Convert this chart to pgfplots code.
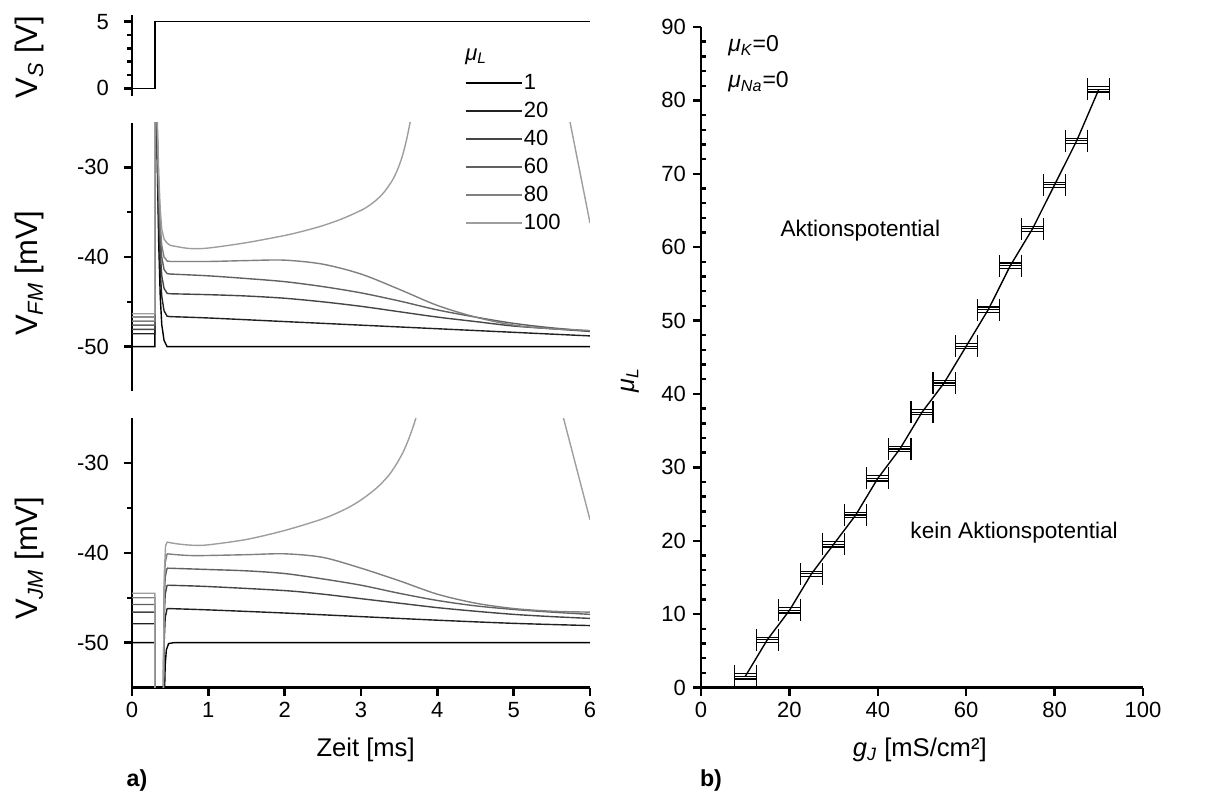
\documentclass[border=0pt]{standalone}
\usepackage{pgfplots}
\pgfplotsset{compat=1.18}
\usepackage{pgfplotstable}
\usepackage{fontspec}
\setmainfont{Liberation Sans}
\newcommand\sub[1]{\textsubscript{\itshape #1}}
\newcommand\mymu{{\itshape μ}}
\definecolor{c1}{gray}{0}
\definecolor{c20}{gray}{0.13}
\definecolor{c40}{gray}{0.27}
\definecolor{c60}{gray}{0.38}
\definecolor{c80}{gray}{0.5}
\definecolor{c100}{gray}{0.62}
\definecolor{cx}{gray}{0.56}

\pgfplotstableread{
x y
10 1.5
15 6.5
20 10.5
25 15.5
30 19.5
35 23.5
40 28.5
45 32.5
50 37.5
55 41.5
60 46.5
65 51.5
70 57.5
75 62.5
80 68.5
85 74.5
90 81.5
}\tabB

\pgfplotsset{
  base/.style={
    scale only axis,
    /pgf/number format/assume math mode=true,
    tick label style={font=\fontsize{11}{13}\selectfont},
    axis line style={-, line width=1.3pt},
    tick style={line width=1.2pt, black},
    major tick length=4pt,
    minor tick length=2.5pt,
    tick align=outside,
    every axis plot/.append style={line width=0.7pt},
  },
  leftx/.style={base, anchor=south west, width=229pt, xmin=0, xmax=6,
    yticklabel style={xshift=-4pt}},
  leftlab/.style={ylabel style={at={(axis description cs:-0.223,#1)}, anchor=center, font=\fontsize{15.5}{18}\selectfont}},
  ebar/.style={draw=none, mark=none, forget plot,
    error bars/x dir=both, error bars/x fixed=2.5,
    error bars/error bar style={draw=black, line width=0.6pt}},
  sm/.style={smooth, tension=0.5, forget plot},
}

\begin{document}
\begin{tikzpicture}
\path[use as bounding box] (0,0) rectangle (611.5pt,400pt);

% ---------- top: V_S ----------
\begin{axis}[leftx, at={(66pt,351.85pt)}, height=40.65pt,
  ymin=-0.6, ymax=5.5, ytick={0,5}, minor y tick num=4,
  hide x axis, axis y line*=left,
  leftlab=0.48, ylabel={V\sub{S} [V]}]
\addplot[black] coordinates {(0,0) (0.3,0) (0.3,5) (6,5)};
\end{axis}

% ---------- middle: V_FM ----------
\begin{axis}[leftx, at={(66pt,204.25pt)}, height=134.5pt,
  ymin=-55, ymax=-25, ytick={-50,-40,-30}, minor y tick num=1,
  hide x axis, axis y line*=left, clip mode=individual,
  leftlab=0.44, ylabel={V\sub{FM} [mV]},
  legend style={at={(axis description cs:0.727,1.18)}, anchor=north west,
    draw=none, fill=none, inner sep=0pt, outer sep=0pt, row sep=4.8pt,
    font=\fontsize{11}{13}\selectfont,
    nodes={inner ysep=0pt, inner xsep=0.8pt}},
  legend cell align=left,
  legend image code/.code={\draw[#1, line width=0.7pt] (0pt,0pt) -- (28pt,0pt);},
  ]
\addplot[c1] coordinates {(0,-50)(0.3,-50)(0.3,-15)(0.31,-15)(0.33,-29)(0.35,-38.45)(0.37,-44.4)(0.39,-47.55)(0.42,-49.3)(0.46,-50)(1,-50)(2,-50)(3,-50)(4,-50)(5,-50)(6,-50)};
\addlegendentry{1}
\addplot[c20] coordinates {(0,-48.56)(0.3,-48.56)(0.3,-15)(0.31,-15)(0.33,-27.7)(0.35,-36.2)(0.37,-41.6)(0.39,-44.4)(0.42,-46.0)(0.46,-46.6)(0.5,-46.65)};
\addlegendentry{20}
\addplot[c20, sm] coordinates {(0.5,-46.65)(1,-46.8)(2,-47.2)(3,-47.6)(4,-48.0)(5,-48.4)(6,-48.8)};
\addplot[c40] coordinates {(0,-48.07)(0.3,-48.07)(0.3,-15)(0.31,-15)(0.33,-26.6)(0.35,-34.5)(0.37,-39.4)(0.39,-42.1)(0.42,-43.5)(0.46,-44.05)(0.5,-44.1)};
\addlegendentry{40}
\addplot[c40, sm] coordinates {(0.5,-44.1)(1,-44.2)(1.5,-44.35)(2,-44.6)(2.5,-45.0)(3,-45.5)(3.5,-46.1)(4,-46.7)(4.5,-47.2)(5,-47.7)(5.5,-48.0)(6,-48.3)};
\addplot[c60] coordinates {(0,-47.6)(0.3,-47.6)(0.3,-15)(0.31,-15)(0.33,-25.8)(0.35,-33.0)(0.37,-37.6)(0.39,-40.0)(0.42,-41.4)(0.46,-41.85)(0.5,-41.9)};
\addlegendentry{60}
\addplot[c60, sm] coordinates {(0.5,-41.9)(1,-42.1)(1.5,-42.4)(2,-42.75)(2.5,-43.3)(3,-44.0)(3.5,-44.9)(4,-45.9)(4.5,-46.7)(5,-47.4)(5.5,-47.9)(6,-48.25)};
\addplot[c80] coordinates {(0,-47.15)(0.3,-47.15)(0.3,-15)(0.31,-15)(0.33,-25.2)(0.35,-32.1)(0.37,-36.4)(0.39,-38.7)(0.42,-40.0)(0.46,-40.45)(0.5,-40.5)};
\addlegendentry{80}
\addplot[c80, sm] coordinates {(0.5,-40.5)(1,-40.5)(1.5,-40.4)(2,-40.35)(2.5,-40.8)(3,-41.9)(3.5,-43.6)(4,-45.4)(4.5,-46.7)(5,-47.6)(5.5,-48.0)(6,-48.2)};
\addplot[c100] coordinates {(0,-46.33)(0.3,-46.33)(0.3,-15)(0.31,-15)(0.33,-24.4)(0.35,-30.7)(0.37,-34.7)(0.39,-36.9)(0.42,-38.0)(0.46,-38.45)(0.5,-38.7)};
\addlegendentry{100}
\addplot[c100, sm] coordinates {(0.5,-38.7)(0.75,-39.05)(1,-39.0)(1.5,-38.4)(2,-37.6)(2.25,-37.1)(2.5,-36.5)(2.75,-35.75)(3.0,-34.8)(3.1,-34.3)(3.2,-33.65)(3.3,-32.8)(3.4,-31.6)(3.45,-30.8)(3.5,-29.8)(3.55,-28.5)(3.6,-26.8)(3.65,-24.7)(3.68,-23.2)};
\addplot[c100, forget plot] coordinates {(5.705,-23.5)(6,-36.2)};
\addplot[cx, forget plot] coordinates {(0,-46.7)(0.3,-46.7)};
\node[anchor=base west, font=\fontsize{11}{13}\selectfont, inner sep=0pt] at (axis description cs:0.727,1.23) {\mymu\sub{L}};
\end{axis}

% ---------- bottom: V_JM ----------
\begin{axis}[leftx, at={(66pt,56.25pt)}, height=134.6pt,
  ymin=-55, ymax=-25, ytick={-50,-40,-30}, minor y tick num=1,
  xtick={0,1,...,6},
  axis x line*=bottom, axis y line*=left,
  leftlab=0.48, ylabel={V\sub{JM} [mV]},
  xlabel={Zeit [ms]},
  xlabel style={at={(axis description cs:0.51,-0.232)}, anchor=center, font=\fontsize{12.8}{15}\selectfont},
  ]
\addplot[c1] coordinates {(0,-50)(0.3,-50)(0.3,-70)(0.41,-70)(0.425,-56)(0.435,-52.5)(0.45,-50.8)(0.48,-50.1)(0.55,-50)(1,-50)(2,-50)(3,-50)(4,-50)(5,-50)(6,-50)};
\addplot[c20] coordinates {(0,-47.9)(0.3,-47.9)(0.3,-70)(0.40,-70)(0.412,-55)(0.42,-50.2)(0.435,-47.2)(0.46,-46.2)};
\addplot[c20, sm] coordinates {(0.46,-46.2)(1,-46.35)(2,-46.7)(3,-47.1)(4,-47.5)(5,-47.85)(6,-48.1)};
\addplot[c40] coordinates {(0,-46.6)(0.3,-46.6)(0.3,-70)(0.40,-70)(0.412,-55)(0.42,-47.6)(0.435,-44.6)(0.46,-43.6)};
\addplot[c40, sm] coordinates {(0.46,-43.6)(1,-43.75)(2,-44.2)(2.5,-44.6)(3,-45.1)(3.5,-45.6)(4,-46.1)(4.5,-46.5)(5,-46.85)(5.5,-47.1)(6,-47.3)};
\addplot[c60] coordinates {(0,-45.75)(0.3,-45.75)(0.3,-70)(0.40,-70)(0.412,-55)(0.42,-45.7)(0.435,-42.7)(0.46,-41.7)};
\addplot[c60, sm] coordinates {(0.46,-41.7)(1,-41.85)(1.5,-42.0)(2,-42.3)(2.5,-42.9)(3,-43.6)(3.5,-44.5)(4,-45.3)(4.5,-45.9)(5,-46.3)(5.5,-46.6)(6,-46.85)};
\addplot[c80] coordinates {(0,-45.0)(0.3,-45.0)(0.3,-70)(0.40,-70)(0.412,-55)(0.42,-44.1)(0.435,-41.1)(0.46,-40.1)};
\addplot[c80, sm] coordinates {(0.46,-40.1)(0.8,-40.3)(1.5,-40.2)(2,-40.1)(2.5,-40.5)(3,-41.7)(3.5,-43.1)(4,-44.6)(4.5,-45.6)(5,-46.2)(5.5,-46.5)(6,-46.6)};
\addplot[c100] coordinates {(0,-44.5)(0.3,-44.5)(0.3,-70)(0.40,-70)(0.415,-52)(0.425,-42)(0.44,-39.2)(0.46,-38.8)};
\addplot[c100, sm] coordinates {(0.46,-38.8)(0.6,-39.0)(0.8,-39.15)(1,-39.1)(1.5,-38.5)(2,-37.5)(2.5,-36.2)(2.8,-35.1)(3.0,-34.1)(3.2,-32.8)(3.35,-31.5)(3.45,-30.3)(3.55,-28.8)(3.63,-27.2)(3.7,-25.5)(3.76,-23.8)};
\addplot[c100] coordinates {(5.623,-24)(6,-36.3)};
\end{axis}

% ---------- right panel ----------
\begin{axis}[base, anchor=south west, at={(350.5pt,56.25pt)}, width=221pt, height=330.25pt,
  xmin=0, xmax=100, ymin=0, ymax=90,
  xtick={0,20,...,100}, ytick={0,10,...,90}, minor y tick num=4,
  minor y tick style={xshift=2.5pt},
  axis x line*=bottom, axis y line*=left,
  xlabel={\textit{g}\sub{J} [mS/cm²]},
  xlabel style={at={(axis description cs:0.495,-0.095)}, anchor=center, font=\fontsize{12.8}{15}\selectfont},
  ylabel={\mymu\sub{L}},
  ylabel style={at={(axis description cs:-0.16,0.465)}, anchor=center, font=\fontsize{12.5}{15}\selectfont},
  ]
\addplot[ebar, error bars/error mark=|, error bars/error mark options={draw=black, mark size=5.5pt, line width=0.6pt}] table {\tabB};
\addplot[ebar, yshift=1.3pt, error bars/error mark=none] table {\tabB};
\addplot[ebar, yshift=-1.3pt, error bars/error mark=none] table {\tabB};
\addplot[black, line width=0.7pt, mark=none] table {\tabB};
\node[anchor=base west, font=\fontsize{11.5}{14}\selectfont, inner sep=0pt] at (axis cs:6.1,86.6) {\mymu\sub{K}=0};
\node[anchor=base west, font=\fontsize{11.5}{14}\selectfont, inner sep=0pt] at (axis cs:6.1,81.7) {\mymu\sub{Na}=0};
\node[anchor=west, font=\fontsize{11.3}{14}\selectfont, inner sep=0pt] at (axis cs:17.9,62.3) {Aktionspotential};
\node[anchor=west, font=\fontsize{11.3}{14}\selectfont, inner sep=0pt] at (axis cs:47.3,21.1) {kein Aktionspotential};
\end{axis}

\node[font=\bfseries\fontsize{11.6}{14}\selectfont] at (68.5pt,10pt) {a)};
\node[font=\bfseries\fontsize{11.6}{14}\selectfont] at (355.5pt,10pt) {b)};
\end{tikzpicture}
\end{document}
